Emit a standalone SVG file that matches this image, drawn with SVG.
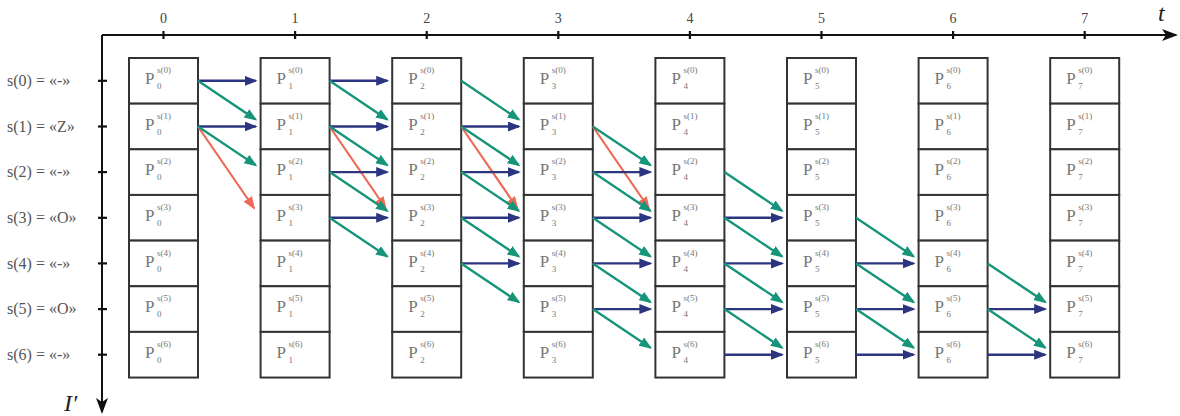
<svg xmlns="http://www.w3.org/2000/svg" width="1180" height="416" viewBox="0 0 1180 416">
<style>
.bg{fill:#ffffff}
.ax{stroke:#111;stroke-width:2;fill:none}
.tk{stroke:#111;stroke-width:2.2}
.num{font-family:"Liberation Serif","DejaVu Serif",serif;font-size:14px;fill:#444;text-anchor:middle}
.lab{font-family:"Liberation Serif","DejaVu Serif",serif;font-size:16px;fill:#555}
.var{font-family:"Liberation Serif","DejaVu Serif",serif;font-style:italic;font-size:24px;fill:#222}
.cell{fill:#fff;stroke:#333;stroke-width:2}
.p{font-family:"Liberation Serif","DejaVu Serif",serif;font-size:17px;fill:#777}
.s{font-family:"Liberation Serif","DejaVu Serif",serif;font-size:9px;fill:#777}
.b{stroke:#2c3580;stroke-width:2.4;marker-end:url(#mb)}
.g{stroke:#16957a;stroke-width:2.4;marker-end:url(#mg)}
.r{stroke:#ec6a56;stroke-width:2.2;marker-end:url(#mr)}
</style>
<defs>
<marker id="mb" markerUnits="userSpaceOnUse" markerWidth="14" markerHeight="11" refX="11" refY="5" orient="auto"><path d="M0,0 L13,5 L0,10 z" fill="#2c3580"/></marker>
<marker id="mg" markerUnits="userSpaceOnUse" markerWidth="14" markerHeight="11" refX="11" refY="5" orient="auto"><path d="M0,0 L13,5 L0,10 z" fill="#16957a"/></marker>
<marker id="mr" markerUnits="userSpaceOnUse" markerWidth="14" markerHeight="11" refX="11" refY="5" orient="auto"><path d="M0,0 L13,5 L0,10 z" fill="#ec6a56"/></marker>
<marker id="ma" markerUnits="userSpaceOnUse" markerWidth="16" markerHeight="14" refX="14" refY="6" orient="auto"><path d="M0,0 L16,6 L0,12 L4,6 z" fill="#111"/></marker>
</defs>
<rect class="bg" x="0" y="0" width="1180" height="416"/>

<g id="axes">
<line class="ax" x1="102" y1="35" x2="1176" y2="35" marker-end="url(#ma)"/>
<line class="ax" x1="102" y1="35" x2="102" y2="412" marker-end="url(#ma)"/>
<text class="var" x="1158" y="21">t</text>
<text class="var" x="64" y="411">I′</text>
<line class="tk" x1="163.5" y1="31" x2="163.5" y2="39"/>
<line class="tk" x1="295.1" y1="31" x2="295.1" y2="39"/>
<line class="tk" x1="426.7" y1="31" x2="426.7" y2="39"/>
<line class="tk" x1="558.3" y1="31" x2="558.3" y2="39"/>
<line class="tk" x1="689.9" y1="31" x2="689.9" y2="39"/>
<line class="tk" x1="821.5" y1="31" x2="821.5" y2="39"/>
<line class="tk" x1="953.1" y1="31" x2="953.1" y2="39"/>
<line class="tk" x1="1084.7" y1="31" x2="1084.7" y2="39"/>
<text class="num" x="163.5" y="23">0</text>
<text class="num" x="295.1" y="23">1</text>
<text class="num" x="426.7" y="23">2</text>
<text class="num" x="558.3" y="23">3</text>
<text class="num" x="689.9" y="23">4</text>
<text class="num" x="821.5" y="23">5</text>
<text class="num" x="953.1" y="23">6</text>
<text class="num" x="1084.7" y="23">7</text>
<line class="tk" x1="98" y1="80.8" x2="107" y2="80.8"/>
<line class="tk" x1="98" y1="126.5" x2="107" y2="126.5"/>
<line class="tk" x1="98" y1="172.1" x2="107" y2="172.1"/>
<line class="tk" x1="98" y1="217.8" x2="107" y2="217.8"/>
<line class="tk" x1="98" y1="263.4" x2="107" y2="263.4"/>
<line class="tk" x1="98" y1="309.1" x2="107" y2="309.1"/>
<line class="tk" x1="98" y1="354.7" x2="107" y2="354.7"/>
<text class="lab" x="7" y="86">s(0) = «-»</text>
<text class="lab" x="7" y="132">s(1) = «Z»</text>
<text class="lab" x="7" y="177">s(2) = «-»</text>
<text class="lab" x="7" y="223">s(3) = «O»</text>
<text class="lab" x="7" y="269">s(4) = «-»</text>
<text class="lab" x="7" y="314">s(5) = «O»</text>
<text class="lab" x="7" y="360">s(6) = «-»</text>
</g>

<g id="c0">
<g id="p0-0"><rect class="cell" x="129" y="58" width="69" height="45.65"/><text class="p" x="145" y="84">P</text><text class="s" x="157" y="73">s(0)</text><text class="s" x="157" y="89">0</text></g>
<g id="p0-1"><rect class="cell" x="129" y="103.65" width="69" height="45.65"/><text class="p" x="145" y="129.7">P</text><text class="s" x="157" y="118.7">s(1)</text><text class="s" x="157" y="134.7">0</text></g>
<g id="p0-2"><rect class="cell" x="129" y="149.3" width="69" height="45.65"/><text class="p" x="145" y="175.3">P</text><text class="s" x="157" y="164.3">s(2)</text><text class="s" x="157" y="180.3">0</text></g>
<g id="p0-3"><rect class="cell" x="129" y="194.95" width="69" height="45.65"/><text class="p" x="145" y="221">P</text><text class="s" x="157" y="210">s(3)</text><text class="s" x="157" y="226">0</text></g>
<g id="p0-4"><rect class="cell" x="129" y="240.6" width="69" height="45.65"/><text class="p" x="145" y="266.6">P</text><text class="s" x="157" y="255.6">s(4)</text><text class="s" x="157" y="271.6">0</text></g>
<g id="p0-5"><rect class="cell" x="129" y="286.25" width="69" height="45.65"/><text class="p" x="145" y="312.3">P</text><text class="s" x="157" y="301.3">s(5)</text><text class="s" x="157" y="317.3">0</text></g>
<g id="p0-6"><rect class="cell" x="129" y="331.9" width="69" height="45.65"/><text class="p" x="145" y="357.9">P</text><text class="s" x="157" y="346.9">s(6)</text><text class="s" x="157" y="362.9">0</text></g>
</g>
<g id="c1">
<g id="p1-0"><rect class="cell" x="260.6" y="58" width="69" height="45.65"/><text class="p" x="276.6" y="84">P</text><text class="s" x="288.6" y="73">s(0)</text><text class="s" x="288.6" y="89">1</text></g>
<g id="p1-1"><rect class="cell" x="260.6" y="103.65" width="69" height="45.65"/><text class="p" x="276.6" y="129.7">P</text><text class="s" x="288.6" y="118.7">s(1)</text><text class="s" x="288.6" y="134.7">1</text></g>
<g id="p1-2"><rect class="cell" x="260.6" y="149.3" width="69" height="45.65"/><text class="p" x="276.6" y="175.3">P</text><text class="s" x="288.6" y="164.3">s(2)</text><text class="s" x="288.6" y="180.3">1</text></g>
<g id="p1-3"><rect class="cell" x="260.6" y="194.95" width="69" height="45.65"/><text class="p" x="276.6" y="221">P</text><text class="s" x="288.6" y="210">s(3)</text><text class="s" x="288.6" y="226">1</text></g>
<g id="p1-4"><rect class="cell" x="260.6" y="240.6" width="69" height="45.65"/><text class="p" x="276.6" y="266.6">P</text><text class="s" x="288.6" y="255.6">s(4)</text><text class="s" x="288.6" y="271.6">1</text></g>
<g id="p1-5"><rect class="cell" x="260.6" y="286.25" width="69" height="45.65"/><text class="p" x="276.6" y="312.3">P</text><text class="s" x="288.6" y="301.3">s(5)</text><text class="s" x="288.6" y="317.3">1</text></g>
<g id="p1-6"><rect class="cell" x="260.6" y="331.9" width="69" height="45.65"/><text class="p" x="276.6" y="357.9">P</text><text class="s" x="288.6" y="346.9">s(6)</text><text class="s" x="288.6" y="362.9">1</text></g>
</g>
<g id="c2">
<g id="p2-0"><rect class="cell" x="392.2" y="58" width="69" height="45.65"/><text class="p" x="408.2" y="84">P</text><text class="s" x="420.2" y="73">s(0)</text><text class="s" x="420.2" y="89">2</text></g>
<g id="p2-1"><rect class="cell" x="392.2" y="103.65" width="69" height="45.65"/><text class="p" x="408.2" y="129.7">P</text><text class="s" x="420.2" y="118.7">s(1)</text><text class="s" x="420.2" y="134.7">2</text></g>
<g id="p2-2"><rect class="cell" x="392.2" y="149.3" width="69" height="45.65"/><text class="p" x="408.2" y="175.3">P</text><text class="s" x="420.2" y="164.3">s(2)</text><text class="s" x="420.2" y="180.3">2</text></g>
<g id="p2-3"><rect class="cell" x="392.2" y="194.95" width="69" height="45.65"/><text class="p" x="408.2" y="221">P</text><text class="s" x="420.2" y="210">s(3)</text><text class="s" x="420.2" y="226">2</text></g>
<g id="p2-4"><rect class="cell" x="392.2" y="240.6" width="69" height="45.65"/><text class="p" x="408.2" y="266.6">P</text><text class="s" x="420.2" y="255.6">s(4)</text><text class="s" x="420.2" y="271.6">2</text></g>
<g id="p2-5"><rect class="cell" x="392.2" y="286.25" width="69" height="45.65"/><text class="p" x="408.2" y="312.3">P</text><text class="s" x="420.2" y="301.3">s(5)</text><text class="s" x="420.2" y="317.3">2</text></g>
<g id="p2-6"><rect class="cell" x="392.2" y="331.9" width="69" height="45.65"/><text class="p" x="408.2" y="357.9">P</text><text class="s" x="420.2" y="346.9">s(6)</text><text class="s" x="420.2" y="362.9">2</text></g>
</g>
<g id="c3">
<g id="p3-0"><rect class="cell" x="523.8" y="58" width="69" height="45.65"/><text class="p" x="539.8" y="84">P</text><text class="s" x="551.8" y="73">s(0)</text><text class="s" x="551.8" y="89">3</text></g>
<g id="p3-1"><rect class="cell" x="523.8" y="103.65" width="69" height="45.65"/><text class="p" x="539.8" y="129.7">P</text><text class="s" x="551.8" y="118.7">s(1)</text><text class="s" x="551.8" y="134.7">3</text></g>
<g id="p3-2"><rect class="cell" x="523.8" y="149.3" width="69" height="45.65"/><text class="p" x="539.8" y="175.3">P</text><text class="s" x="551.8" y="164.3">s(2)</text><text class="s" x="551.8" y="180.3">3</text></g>
<g id="p3-3"><rect class="cell" x="523.8" y="194.95" width="69" height="45.65"/><text class="p" x="539.8" y="221">P</text><text class="s" x="551.8" y="210">s(3)</text><text class="s" x="551.8" y="226">3</text></g>
<g id="p3-4"><rect class="cell" x="523.8" y="240.6" width="69" height="45.65"/><text class="p" x="539.8" y="266.6">P</text><text class="s" x="551.8" y="255.6">s(4)</text><text class="s" x="551.8" y="271.6">3</text></g>
<g id="p3-5"><rect class="cell" x="523.8" y="286.25" width="69" height="45.65"/><text class="p" x="539.8" y="312.3">P</text><text class="s" x="551.8" y="301.3">s(5)</text><text class="s" x="551.8" y="317.3">3</text></g>
<g id="p3-6"><rect class="cell" x="523.8" y="331.9" width="69" height="45.65"/><text class="p" x="539.8" y="357.9">P</text><text class="s" x="551.8" y="346.9">s(6)</text><text class="s" x="551.8" y="362.9">3</text></g>
</g>
<g id="c4">
<g id="p4-0"><rect class="cell" x="655.4" y="58" width="69" height="45.65"/><text class="p" x="671.4" y="84">P</text><text class="s" x="683.4" y="73">s(0)</text><text class="s" x="683.4" y="89">4</text></g>
<g id="p4-1"><rect class="cell" x="655.4" y="103.65" width="69" height="45.65"/><text class="p" x="671.4" y="129.7">P</text><text class="s" x="683.4" y="118.7">s(1)</text><text class="s" x="683.4" y="134.7">4</text></g>
<g id="p4-2"><rect class="cell" x="655.4" y="149.3" width="69" height="45.65"/><text class="p" x="671.4" y="175.3">P</text><text class="s" x="683.4" y="164.3">s(2)</text><text class="s" x="683.4" y="180.3">4</text></g>
<g id="p4-3"><rect class="cell" x="655.4" y="194.95" width="69" height="45.65"/><text class="p" x="671.4" y="221">P</text><text class="s" x="683.4" y="210">s(3)</text><text class="s" x="683.4" y="226">4</text></g>
<g id="p4-4"><rect class="cell" x="655.4" y="240.6" width="69" height="45.65"/><text class="p" x="671.4" y="266.6">P</text><text class="s" x="683.4" y="255.6">s(4)</text><text class="s" x="683.4" y="271.6">4</text></g>
<g id="p4-5"><rect class="cell" x="655.4" y="286.25" width="69" height="45.65"/><text class="p" x="671.4" y="312.3">P</text><text class="s" x="683.4" y="301.3">s(5)</text><text class="s" x="683.4" y="317.3">4</text></g>
<g id="p4-6"><rect class="cell" x="655.4" y="331.9" width="69" height="45.65"/><text class="p" x="671.4" y="357.9">P</text><text class="s" x="683.4" y="346.9">s(6)</text><text class="s" x="683.4" y="362.9">4</text></g>
</g>
<g id="c5">
<g id="p5-0"><rect class="cell" x="787" y="58" width="69" height="45.65"/><text class="p" x="803" y="84">P</text><text class="s" x="815" y="73">s(0)</text><text class="s" x="815" y="89">5</text></g>
<g id="p5-1"><rect class="cell" x="787" y="103.65" width="69" height="45.65"/><text class="p" x="803" y="129.7">P</text><text class="s" x="815" y="118.7">s(1)</text><text class="s" x="815" y="134.7">5</text></g>
<g id="p5-2"><rect class="cell" x="787" y="149.3" width="69" height="45.65"/><text class="p" x="803" y="175.3">P</text><text class="s" x="815" y="164.3">s(2)</text><text class="s" x="815" y="180.3">5</text></g>
<g id="p5-3"><rect class="cell" x="787" y="194.95" width="69" height="45.65"/><text class="p" x="803" y="221">P</text><text class="s" x="815" y="210">s(3)</text><text class="s" x="815" y="226">5</text></g>
<g id="p5-4"><rect class="cell" x="787" y="240.6" width="69" height="45.65"/><text class="p" x="803" y="266.6">P</text><text class="s" x="815" y="255.6">s(4)</text><text class="s" x="815" y="271.6">5</text></g>
<g id="p5-5"><rect class="cell" x="787" y="286.25" width="69" height="45.65"/><text class="p" x="803" y="312.3">P</text><text class="s" x="815" y="301.3">s(5)</text><text class="s" x="815" y="317.3">5</text></g>
<g id="p5-6"><rect class="cell" x="787" y="331.9" width="69" height="45.65"/><text class="p" x="803" y="357.9">P</text><text class="s" x="815" y="346.9">s(6)</text><text class="s" x="815" y="362.9">5</text></g>
</g>
<g id="c6">
<g id="p6-0"><rect class="cell" x="918.6" y="58" width="69" height="45.65"/><text class="p" x="934.6" y="84">P</text><text class="s" x="946.6" y="73">s(0)</text><text class="s" x="946.6" y="89">6</text></g>
<g id="p6-1"><rect class="cell" x="918.6" y="103.65" width="69" height="45.65"/><text class="p" x="934.6" y="129.7">P</text><text class="s" x="946.6" y="118.7">s(1)</text><text class="s" x="946.6" y="134.7">6</text></g>
<g id="p6-2"><rect class="cell" x="918.6" y="149.3" width="69" height="45.65"/><text class="p" x="934.6" y="175.3">P</text><text class="s" x="946.6" y="164.3">s(2)</text><text class="s" x="946.6" y="180.3">6</text></g>
<g id="p6-3"><rect class="cell" x="918.6" y="194.95" width="69" height="45.65"/><text class="p" x="934.6" y="221">P</text><text class="s" x="946.6" y="210">s(3)</text><text class="s" x="946.6" y="226">6</text></g>
<g id="p6-4"><rect class="cell" x="918.6" y="240.6" width="69" height="45.65"/><text class="p" x="934.6" y="266.6">P</text><text class="s" x="946.6" y="255.6">s(4)</text><text class="s" x="946.6" y="271.6">6</text></g>
<g id="p6-5"><rect class="cell" x="918.6" y="286.25" width="69" height="45.65"/><text class="p" x="934.6" y="312.3">P</text><text class="s" x="946.6" y="301.3">s(5)</text><text class="s" x="946.6" y="317.3">6</text></g>
<g id="p6-6"><rect class="cell" x="918.6" y="331.9" width="69" height="45.65"/><text class="p" x="934.6" y="357.9">P</text><text class="s" x="946.6" y="346.9">s(6)</text><text class="s" x="946.6" y="362.9">6</text></g>
</g>
<g id="c7">
<g id="p7-0"><rect class="cell" x="1050.2" y="58" width="69" height="45.65"/><text class="p" x="1066.2" y="84">P</text><text class="s" x="1078.2" y="73">s(0)</text><text class="s" x="1078.2" y="89">7</text></g>
<g id="p7-1"><rect class="cell" x="1050.2" y="103.65" width="69" height="45.65"/><text class="p" x="1066.2" y="129.7">P</text><text class="s" x="1078.2" y="118.7">s(1)</text><text class="s" x="1078.2" y="134.7">7</text></g>
<g id="p7-2"><rect class="cell" x="1050.2" y="149.3" width="69" height="45.65"/><text class="p" x="1066.2" y="175.3">P</text><text class="s" x="1078.2" y="164.3">s(2)</text><text class="s" x="1078.2" y="180.3">7</text></g>
<g id="p7-3"><rect class="cell" x="1050.2" y="194.95" width="69" height="45.65"/><text class="p" x="1066.2" y="221">P</text><text class="s" x="1078.2" y="210">s(3)</text><text class="s" x="1078.2" y="226">7</text></g>
<g id="p7-4"><rect class="cell" x="1050.2" y="240.6" width="69" height="45.65"/><text class="p" x="1066.2" y="266.6">P</text><text class="s" x="1078.2" y="255.6">s(4)</text><text class="s" x="1078.2" y="271.6">7</text></g>
<g id="p7-5"><rect class="cell" x="1050.2" y="286.25" width="69" height="45.65"/><text class="p" x="1066.2" y="312.3">P</text><text class="s" x="1078.2" y="301.3">s(5)</text><text class="s" x="1078.2" y="317.3">7</text></g>
<g id="p7-6"><rect class="cell" x="1050.2" y="331.9" width="69" height="45.65"/><text class="p" x="1066.2" y="357.9">P</text><text class="s" x="1078.2" y="346.9">s(6)</text><text class="s" x="1078.2" y="362.9">7</text></g>
</g>

<g id="connectors">
<!-- gap 0 -->
<line class="r" x1="198" y1="126.5" x2="254" y2="208"/>
<line class="b" x1="198" y1="80.8" x2="255.6" y2="80.8"/>
<line class="g" x1="198" y1="80.8" x2="255.6" y2="119.5"/>
<line class="b" x1="198" y1="126.5" x2="255.6" y2="126.5"/>
<line class="g" x1="198" y1="126.5" x2="255.6" y2="165.1"/>
<!-- gap 1 -->
<line class="r" x1="329.6" y1="126.5" x2="385.6" y2="208"/>
<line class="b" x1="329.6" y1="80.8" x2="387.2" y2="80.8"/>
<line class="g" x1="329.6" y1="80.8" x2="387.2" y2="119.5"/>
<line class="b" x1="329.6" y1="126.5" x2="387.2" y2="126.5"/>
<line class="g" x1="329.6" y1="126.5" x2="387.2" y2="165.1"/>
<line class="b" x1="329.6" y1="172.1" x2="387.2" y2="172.1"/>
<line class="g" x1="329.6" y1="172.1" x2="387.2" y2="210.8"/>
<line class="b" x1="329.6" y1="217.8" x2="387.2" y2="217.8"/>
<line class="g" x1="329.6" y1="217.8" x2="387.2" y2="256.4"/>
<!-- gap 2 -->
<line class="r" x1="461.2" y1="126.5" x2="517.2" y2="208"/>
<line class="g" x1="461.2" y1="80.8" x2="518.8" y2="119.5"/>
<line class="b" x1="461.2" y1="126.5" x2="518.8" y2="126.5"/>
<line class="g" x1="461.2" y1="126.5" x2="518.8" y2="165.1"/>
<line class="b" x1="461.2" y1="172.1" x2="518.8" y2="172.1"/>
<line class="g" x1="461.2" y1="172.1" x2="518.8" y2="210.8"/>
<line class="b" x1="461.2" y1="217.8" x2="518.8" y2="217.8"/>
<line class="g" x1="461.2" y1="217.8" x2="518.8" y2="256.4"/>
<line class="b" x1="461.2" y1="263.4" x2="518.8" y2="263.4"/>
<line class="g" x1="461.2" y1="263.4" x2="518.8" y2="302.1"/>
<!-- gap 3 -->
<line class="r" x1="592.8" y1="126.5" x2="648.8" y2="208"/>
<line class="g" x1="592.8" y1="126.5" x2="650.4" y2="165.1"/>
<line class="b" x1="592.8" y1="172.1" x2="650.4" y2="172.1"/>
<line class="g" x1="592.8" y1="172.1" x2="650.4" y2="210.8"/>
<line class="b" x1="592.8" y1="217.8" x2="650.4" y2="217.8"/>
<line class="g" x1="592.8" y1="217.8" x2="650.4" y2="256.4"/>
<line class="b" x1="592.8" y1="263.4" x2="650.4" y2="263.4"/>
<line class="g" x1="592.8" y1="263.4" x2="650.4" y2="302.1"/>
<line class="b" x1="592.8" y1="309.1" x2="650.4" y2="309.1"/>
<line class="g" x1="592.8" y1="309.1" x2="650.4" y2="347.7"/>
<!-- gap 4 -->
<line class="g" x1="724.4" y1="172.1" x2="782" y2="210.8"/>
<line class="b" x1="724.4" y1="217.8" x2="782" y2="217.8"/>
<line class="g" x1="724.4" y1="217.8" x2="782" y2="256.4"/>
<line class="b" x1="724.4" y1="263.4" x2="782" y2="263.4"/>
<line class="g" x1="724.4" y1="263.4" x2="782" y2="302.1"/>
<line class="b" x1="724.4" y1="309.1" x2="782" y2="309.1"/>
<line class="g" x1="724.4" y1="309.1" x2="782" y2="347.7"/>
<line class="b" x1="724.4" y1="354.7" x2="782" y2="354.7"/>
<!-- gap 5 -->
<line class="g" x1="856" y1="217.8" x2="913.6" y2="256.4"/>
<line class="b" x1="856" y1="263.4" x2="913.6" y2="263.4"/>
<line class="g" x1="856" y1="263.4" x2="913.6" y2="302.1"/>
<line class="b" x1="856" y1="309.1" x2="913.6" y2="309.1"/>
<line class="g" x1="856" y1="309.1" x2="913.6" y2="347.7"/>
<line class="b" x1="856" y1="354.7" x2="913.6" y2="354.7"/>
<!-- gap 6 -->
<line class="g" x1="987.6" y1="263.4" x2="1045.2" y2="302.1"/>
<line class="b" x1="987.6" y1="309.1" x2="1045.2" y2="309.1"/>
<line class="g" x1="987.6" y1="309.1" x2="1045.2" y2="347.7"/>
<line class="b" x1="987.6" y1="354.7" x2="1045.2" y2="354.7"/>
</g>
</svg>
